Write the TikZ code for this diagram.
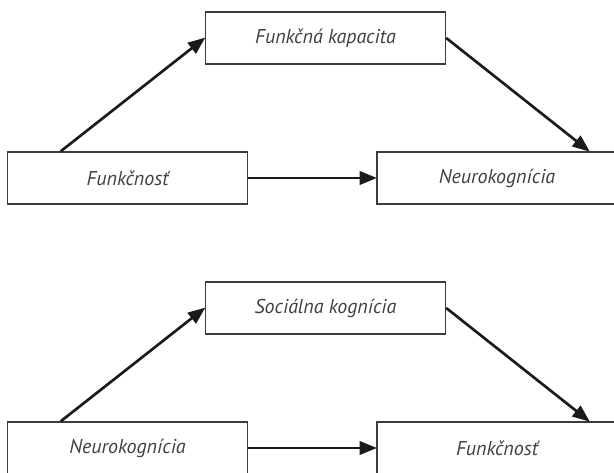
\documentclass[tikz,border=0pt]{standalone}
\usepackage{fontspec}
\setmainfont{PT Sans}
\usetikzlibrary{arrows.meta}
\definecolor{txt}{HTML}{404040}
\definecolor{boxline}{HTML}{3C3C3C}
\definecolor{arr}{HTML}{1A1A1A}
\tikzset{
  boxnode/.style={draw=boxline, line width=1.1pt, rectangle, minimum width=180pt, minimum height=39pt, inner sep=0pt, text=txt, font=\fontsize{15}{18}\selectfont\itshape},
  conn/.style={draw=arr, line width=2pt, -{Triangle[length=13pt,width=10pt]}, shorten >=-0.5pt}
}
\begin{document}
\begin{tikzpicture}[x=0.75pt,y=-0.75pt]
\useasboundingbox (0,0) rectangle (614,473);
% top diagram
\node[boxnode] (A) at (325.5,38) {Funkčná kapacita};
\node[boxnode] (B) at (127.5,178) {Funkčnosť};
\node[boxnode] (C) at (497,178) {Neurokognícia};
\draw[conn] ([xshift=40.5pt]B.north west) -- (A.west);
\draw[conn] (A.east) -- ([xshift=159.75pt]C.north west);
\draw[conn] (B.east) -- (C.west);
% bottom diagram
\node[boxnode] (D) at (325.5,308) {Sociálna kognícia};
\node[boxnode] (E) at (127.5,448) {Neurokognícia};
\node[boxnode] (F) at (497,448) {Funkčnosť};
\draw[conn] ([xshift=40.5pt]E.north west) -- (D.west);
\draw[conn] (D.east) -- ([xshift=159.75pt]F.north west);
\draw[conn] (E.east) -- (F.west);
\end{tikzpicture}
\end{document}
